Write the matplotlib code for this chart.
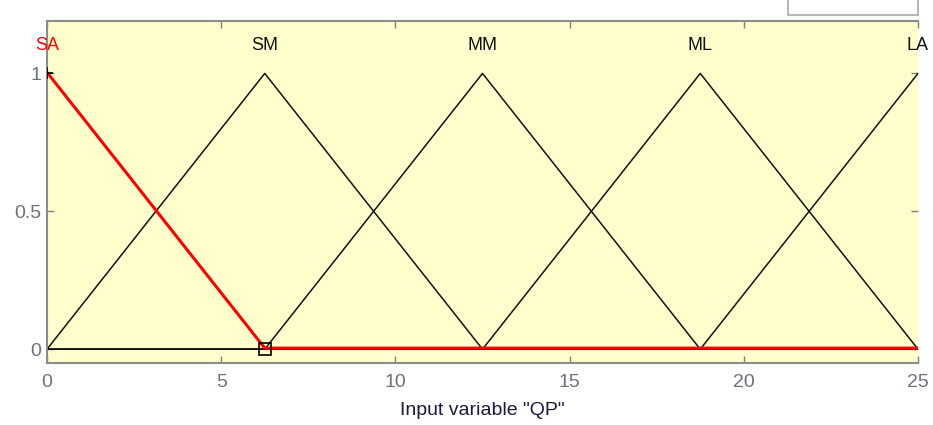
import matplotlib
matplotlib.use("Agg")
import matplotlib.pyplot as plt
from matplotlib.patches import Rectangle
import numpy as np

plt.rcParams['font.family'] = ['Liberation Sans', 'DejaVu Sans']

# membership functions of input "QP" (triangles: left, peak, right)
mf_names = ["SA", "SM", "MM", "ML", "LA"]
mf_left = [-6.25, 0.0, 6.25, 12.5, 18.75]
mf_peak = [0.0, 6.25, 12.5, 18.75, 25.0]
mf_right = [6.25, 12.5, 18.75, 25.0, 31.25]
x_range = [0, 25]
x_ticks = [0, 5, 10, 15, 20, 25]
y_ticks = [0, 0.5, 1]
selected = 0  # SA is highlighted

fig = plt.figure(figsize=(9.33, 4.25), dpi=100)
ax = fig.add_axes([47 / 933, 62 / 425, 871 / 933, 342 / 425])
ax.set_facecolor("#ffffcc")

x = np.linspace(x_range[0], x_range[1], 2001)


def trimf(xx, a, b, c):
    left = (xx - a) / (b - a)
    right = (c - xx) / (c - b)
    return np.clip(np.minimum(left, right), 0, 1)


for i, name in enumerate(mf_names):
    if i == selected:
        continue
    y = trimf(x, mf_left[i], mf_peak[i], mf_right[i])
    ax.plot(x, y, color="#111111", lw=1.1, zorder=2)

# selected MF in red, on top
y = trimf(x, mf_left[selected], mf_peak[selected], mf_right[selected])
ax.plot(x, y + 0.004, color="red", lw=2.2, zorder=3, solid_capstyle="butt")
ax.plot([mf_peak[selected]], [1], marker="+", ms=9, mew=1.2, color="black", zorder=4)
ax.plot([mf_right[selected]], [0], marker="s", ms=8, mfc="none", mec="black", mew=1.2, zorder=4)

for i, name in enumerate(mf_names):
    ax.text(mf_peak[i], 1.10, name, ha="center", va="center", fontsize=13,
            color="red" if i == selected else "#111111", clip_on=False)

ax.set_xlim(x_range)
ax.set_ylim(-0.05, 1.19)
ax.set_xticks(x_ticks)
ax.set_xticklabels([str(t) for t in x_ticks])
ax.set_yticks(y_ticks)
ax.set_yticklabels(["0", "0.5", "1"])
ax.tick_params(direction="in", colors="#808080", labelcolor="#70707c", labelsize=14,
               top=True, right=True, length=5, width=1)
ax.tick_params(axis="x", pad=8)
ax.tick_params(axis="y", pad=4)
for s in ax.spines.values():
    s.set_color("#8c8c8c")
    s.set_linewidth(1.5)
ax.spines["right"].set_visible(False)

ax.set_xlabel('Input variable "QP"', fontsize=14, color="#1a1a40", labelpad=8)

# fragment of a frame above the axes (top right)
fig.patches.append(Rectangle((788 / 933, 410 / 425), 130 / 933, 20 / 425,
                             transform=fig.transFigure, facecolor="white",
                             edgecolor="#a8a8b0", lw=1.2))

fig.savefig("out.png", dpi=100)
